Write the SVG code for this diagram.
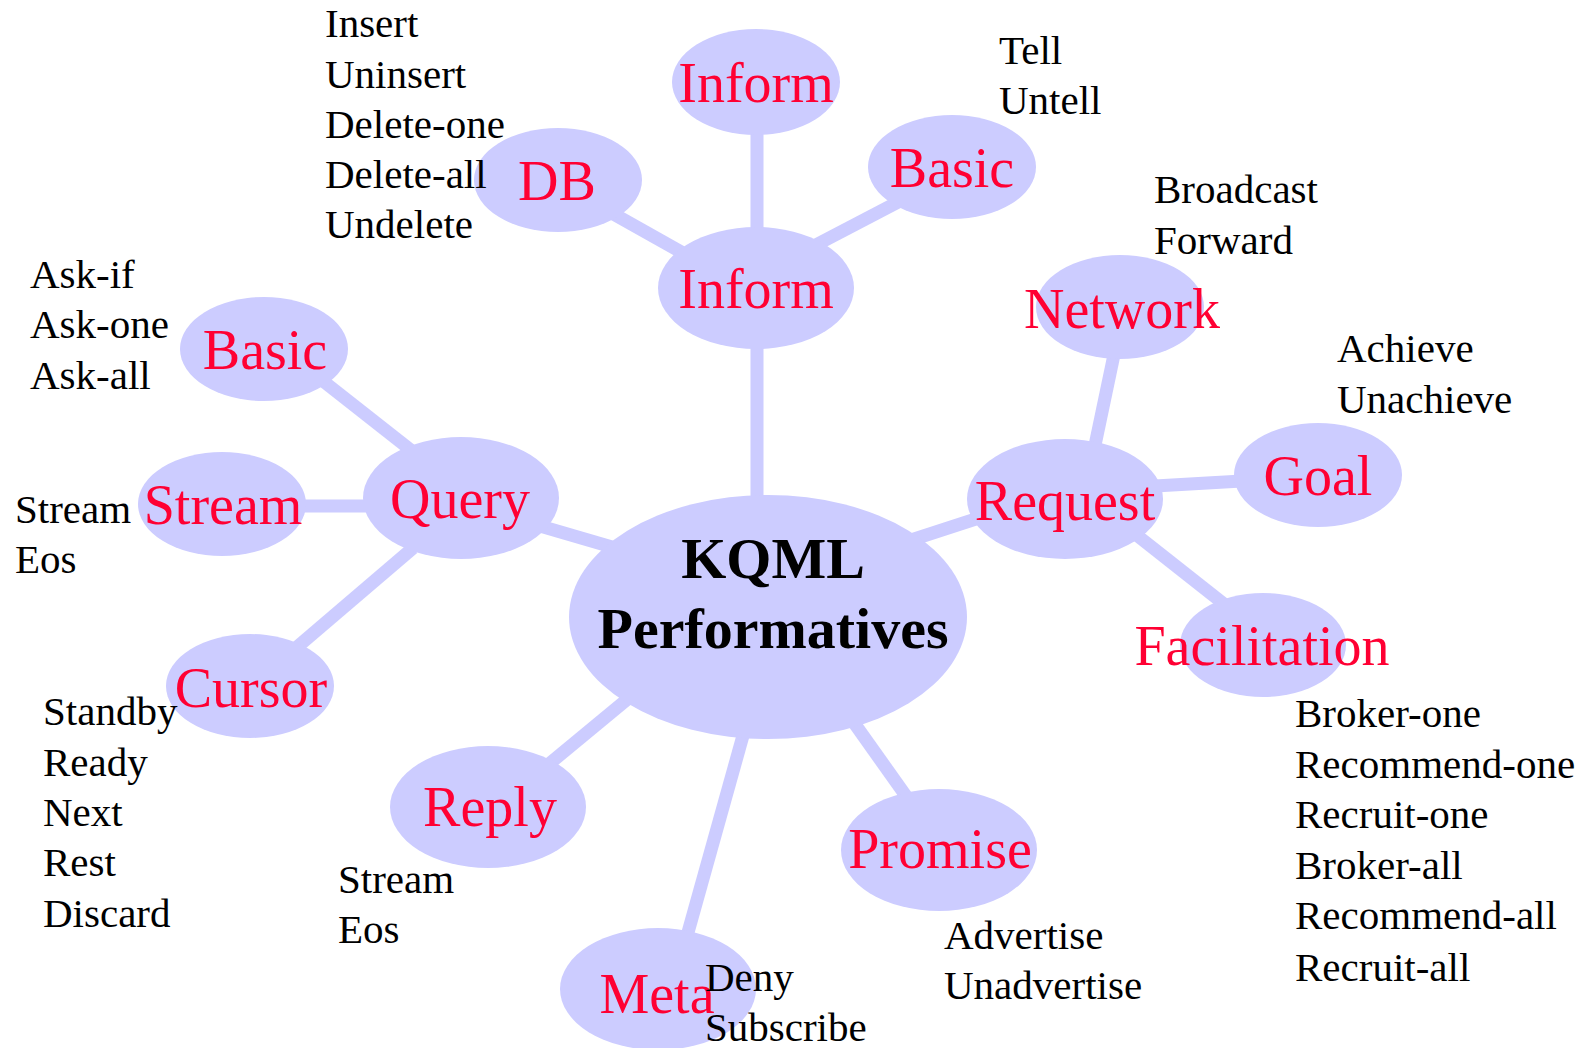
<svg xmlns="http://www.w3.org/2000/svg" width="1592" height="1048" viewBox="0 0 1592 1048">
  <style>
    .bubble { fill: #CCCCFF; }
    .link { stroke: #CCCCFF; stroke-width: 13; stroke-linecap: butt; }
    .name { font-family: "Liberation Serif", "Times New Roman", serif; font-size: 56px; fill: #FF0033; text-anchor: middle; }
    .hub { font-family: "Liberation Serif", "Times New Roman", serif; font-size: 58px; font-weight: bold; fill: #000; text-anchor: middle; }
    .item { font-family: "Liberation Serif", "Times New Roman", serif; font-size: 41px; fill: #000; }
  </style>
  <rect width="1592" height="1048" fill="#FFFFFF"/>

  <!-- connectors -->
  <g id="connectors">
    <line class="link" x1="757" y1="340" x2="757" y2="500"/>
    <line class="link" x1="757" y1="130" x2="757" y2="232"/>
    <line class="link" x1="610" y1="212" x2="690" y2="257"/>
    <line class="link" x1="812" y1="247" x2="902" y2="200"/>
    <line class="link" x1="540" y1="526" x2="612" y2="547"/>
    <line class="link" x1="323" y1="381" x2="412" y2="451"/>
    <line class="link" x1="300" y1="506" x2="368" y2="506"/>
    <line class="link" x1="413" y1="548" x2="296" y2="648"/>
    <line class="link" x1="630" y1="697" x2="549" y2="764"/>
    <line class="link" x1="744" y1="732" x2="687" y2="936"/>
    <line class="link" x1="852" y1="720" x2="906" y2="796"/>
    <line class="link" x1="905" y1="542" x2="985" y2="516"/>
    <line class="link" x1="1094" y1="450" x2="1115" y2="350"/>
    <line class="link" x1="1155" y1="486" x2="1242" y2="481"/>
    <line class="link" x1="1134" y1="533" x2="1224" y2="604"/>
  </g>

  <!-- hub -->
  <g id="kqml">
    <ellipse class="bubble" cx="768" cy="617" rx="199" ry="122"/>
    <text class="hub" x="773" y="578">KQML</text>
    <text class="hub" x="773" y="648">Performatives</text>
  </g>

  <!-- Inform branch -->
  <g id="inform">
    <ellipse class="bubble" cx="756" cy="288" rx="98" ry="61"/>
    <text class="name" x="756" y="308">Inform</text>
  </g>
  <g id="inform-inform">
    <ellipse class="bubble" cx="756" cy="82" rx="84" ry="53"/>
    <text class="name" x="756" y="102">Inform</text>
  </g>
  <g id="inform-db">
    <ellipse class="bubble" cx="558" cy="180" rx="84" ry="52"/>
    <text class="name" x="557" y="200">DB</text>
    <text class="item" x="325" y="37">Insert</text>
    <text class="item" x="325" y="88">Uninsert</text>
    <text class="item" x="325" y="138">Delete-one</text>
    <text class="item" x="325" y="188">Delete-all</text>
    <text class="item" x="325" y="238">Undelete</text>
  </g>
  <g id="inform-basic">
    <ellipse class="bubble" cx="952" cy="167" rx="84" ry="52"/>
    <text class="name" x="952" y="187">Basic</text>
    <text class="item" x="999" y="64">Tell</text>
    <text class="item" x="999" y="114">Untell</text>
  </g>

  <!-- Query branch -->
  <g id="query">
    <ellipse class="bubble" cx="461" cy="498" rx="98" ry="61"/>
    <text class="name" x="460" y="518">Query</text>
  </g>
  <g id="query-basic">
    <ellipse class="bubble" cx="264" cy="349" rx="84" ry="52"/>
    <text class="name" x="265" y="369">Basic</text>
    <text class="item" x="30" y="288">Ask-if</text>
    <text class="item" x="30" y="338">Ask-one</text>
    <text class="item" x="30" y="389">Ask-all</text>
  </g>
  <g id="query-stream">
    <ellipse class="bubble" cx="222" cy="504" rx="84" ry="52"/>
    <text class="name" x="223" y="524">Stream</text>
    <text class="item" x="15" y="523">Stream</text>
    <text class="item" x="15" y="573">Eos</text>
  </g>
  <g id="query-cursor">
    <ellipse class="bubble" cx="250" cy="686" rx="84" ry="52"/>
    <text class="name" x="251" y="707">Cursor</text>
    <text class="item" x="43" y="725">Standby</text>
    <text class="item" x="43" y="776">Ready</text>
    <text class="item" x="43" y="826">Next</text>
    <text class="item" x="43" y="876">Rest</text>
    <text class="item" x="43" y="927">Discard</text>
  </g>

  <!-- Reply -->
  <g id="reply">
    <ellipse class="bubble" cx="488" cy="807" rx="98" ry="61"/>
    <text class="name" x="490" y="826">Reply</text>
    <text class="item" x="338" y="893">Stream</text>
    <text class="item" x="338" y="943">Eos</text>
  </g>

  <!-- Meta -->
  <g id="meta">
    <ellipse class="bubble" cx="658" cy="989" rx="98" ry="61"/>
    <text class="name" x="657" y="1013">Meta</text>
    <text class="item" x="705" y="991">Deny</text>
    <text class="item" x="705" y="1041">Subscribe</text>
  </g>

  <!-- Promise -->
  <g id="promise">
    <ellipse class="bubble" cx="939" cy="850" rx="98" ry="61"/>
    <text class="name" x="940" y="868">Promise</text>
    <text class="item" x="944" y="949">Advertise</text>
    <text class="item" x="944" y="999">Unadvertise</text>
  </g>

  <!-- Request branch -->
  <g id="request">
    <ellipse class="bubble" cx="1065" cy="499" rx="98" ry="60"/>
    <text class="name" x="1065" y="520">Request</text>
  </g>
  <g id="request-network">
    <ellipse class="bubble" cx="1120" cy="307" rx="84" ry="52"/>
    <text class="name" x="1122" y="328">Network</text>
    <text class="item" x="1154" y="203">Broadcast</text>
    <text class="item" x="1154" y="254">Forward</text>
  </g>
  <g id="request-goal">
    <ellipse class="bubble" cx="1318" cy="475" rx="84" ry="52"/>
    <text class="name" x="1318" y="495">Goal</text>
    <text class="item" x="1337" y="362">Achieve</text>
    <text class="item" x="1337" y="413">Unachieve</text>
  </g>
  <g id="request-facilitation">
    <ellipse class="bubble" cx="1263" cy="645" rx="83" ry="52"/>
    <text class="name" x="1262" y="665">Facilitation</text>
    <text class="item" x="1295" y="727">Broker-one</text>
    <text class="item" x="1295" y="778">Recommend-one</text>
    <text class="item" x="1295" y="828">Recruit-one</text>
    <text class="item" x="1295" y="879">Broker-all</text>
    <text class="item" x="1295" y="929">Recommend-all</text>
    <text class="item" x="1295" y="981">Recruit-all</text>
  </g>
</svg>
